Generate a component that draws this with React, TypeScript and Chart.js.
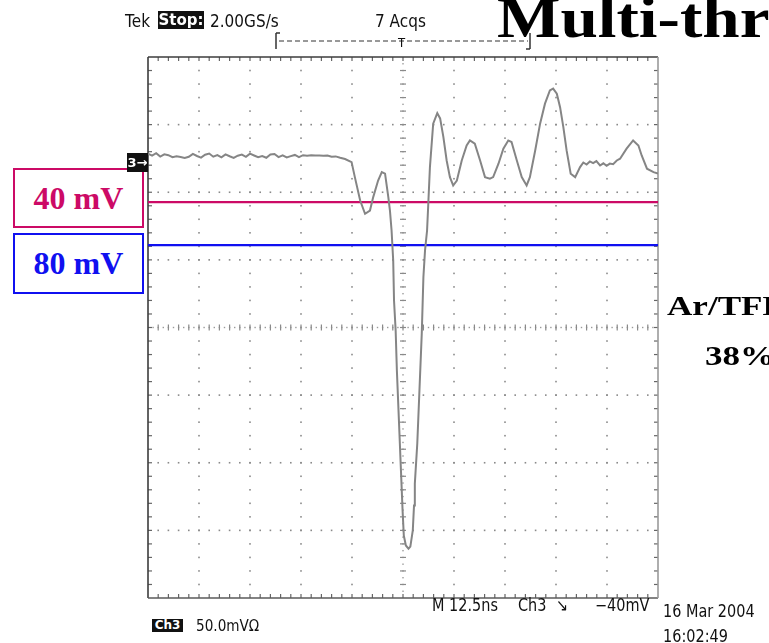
import React, { useEffect, useRef } from "react";
import { Chart, registerables } from "chart.js";

Chart.register(...registerables);

// Horizontal: 12.5 ns/div, 10 divisions, trigger at screen centre.
// Vertical: Ch3 at 50 mV/div, 8 divisions, values relative to channel ground.
const NS_PER_DIV = 12.5;
const MV_PER_DIV = 50;
const X_MIN = -62.5;
const X_MAX = 62.5;
const Y_MIN = -325;
const Y_MAX = 75;

// Captured Ch3 record (time in ns, amplitude in mV)
const traceTimeNs = [
  -62.5, -61.5, -60.5, -59.5, -58.5, -57.5, -56.5, -55.5, -54.5, -53.5,
  -52.5, -51.5, -50.5, -49.5, -48.5, -47.5, -46.5, -45.5, -44.5, -43.5,
  -42.5, -41.5, -40.5, -39.5, -38.5, -37.5, -36.5, -35.5, -34.5, -33.5,
  -32.5, -31.5, -30.5, -29.5, -28.5, -27.5, -26.5, -25.5, -24.5, -23.5,
  -22.5, -21.5, -20.5, -19.5, -18.5, -17.5, -16.5,
  -15.4, -14.2, -12.6, -11.8, -10.5, -9.3, -8.1, -7.3, -6.1, -5.2,
  -4.4, -3.6, -3.2, -2.8, -2.4, -2.2, -1.8, -1.5, -1.0, -0.5,
  -0.1, 0.2, 0.7, 1.35, 1.8, 2.4, 2.7, 2.9, 3.5, 4.0,
  4.6, 5.0, 5.4, 5.9, 6.2, 6.6, 7.4, 8.4, 9.1, 9.9,
  10.7, 11.5, 12.3, 13.2, 14.4, 15.6, 16.4, 17.6, 18.9, 20.1,
  21.3, 22.1, 23.4, 24.6, 25.8, 26.6, 27.9, 29.1, 30.3, 31.1,
  32.4, 33.6, 34.8, 36.0, 36.8, 37.7, 38.5, 39.3, 40.1, 41.1,
  42.2, 43.4, 44.2, 45.0, 45.8, 46.6, 47.4, 48.3, 49.1, 49.9,
  50.7, 51.5, 52.4, 53.2, 54.8, 56.4, 57.7, 58.5, 59.8, 61.4,
  62.5,
];

const traceMv = [
  3.5, 2.1, 3.9, 1.4, 3.0, 2.4, 0.9, 1.6, 1.1, 0.3,
  1.2, 3.4, 1.8, 0.6, 2.7, 3.6, 1.3, 2.5, 0.8, 3.0,
  1.6, 0.4, 2.0, 2.8, 1.2, 3.5, 2.2, 0.9, 1.8, 0.5,
  2.9, 3.3, 1.0, 2.3, 0.7, 1.7, 2.6, 1.0, 2.4, 2.0,
  2.4, 2.1, 2.2, 1.9, 2.1, 1.3, 1.5,
  0.5, -0.4, -2.7, -13.8, -31.1, -40.9, -38.5, -28.6, -16.3, -10.1,
  -11.3, -28.6, -38.5, -53.3, -75.4, -105, -127.2, -156.8, -193.8, -230.8,
  -260.4, -278.8, -286.2, -288.5, -287, -275.1, -256.7, -240.4, -210.8, -173.8,
  -129.4, -87.8, -68, -53.3, -33.3, -6.4, 25.7, 33.5, 29.6, 15.8,
  -1.5, -13.8, -20, -16.3, -1.5, 9.6, 13.3, 10.9, -1.5, -13.8,
  -15, -13.8, -3.9, 7.2, 13.3, 12.1, -1.5, -13.8, -20, -13.8,
  5.9, 25.7, 40.5, 50.3, 51.6, 47.9, 37.9, 23.2, 5.9, -11.3,
  -13.8, -6.4, -3.0, -4.5, -2.2, -3.5, -2.0, -5.2, -3.6, -5.5,
  -3.8, -4.2, -1.5, -0.2, 7.2, 13.3, 9.6, 2.2, -7.6, -10.1,
  -11.1,
];

// Discriminator thresholds (negative-going pulse), in mV
const thresholdLabels = ["40 mV", "80 mV"];
const thresholdMv = [-40, -80];
const thresholdColors = ["#cc0a66", "#1010f0"];

const TEK = '"DejaVu Sans", "Liberation Sans", sans-serif';
const SERIF = '"Liberation Serif", "Times New Roman", serif';

const graticule = {
  id: "graticule",
  beforeDatasetsDraw(chart: any) {
    const { ctx, chartArea: a, scales } = chart;
    const xs = scales.x;
    const ys = scales.y;
    const px = (v: number) => xs.getPixelForValue(v);
    const py = (v: number) => ys.getPixelForValue(v);
    const dot = (x: number, y: number, c = "#8a8a8a", s = 1.6) => {
      ctx.fillStyle = c;
      ctx.fillRect(x - s / 2, y - s / 2, s, s);
    };
    const seg = (x1: number, y1: number, x2: number, y2: number) => {
      ctx.beginPath();
      ctx.moveTo(x1, y1);
      ctx.lineTo(x2, y2);
      ctx.stroke();
    };
    ctx.save();
    const cxVal = (X_MIN + X_MAX) / 2;
    const cyVal = (Y_MIN + Y_MAX) / 2;
    // dotted division lines
    for (let k = 1; k < 10; k++) {
      if (k === 5) continue;
      const x = px(X_MIN + k * NS_PER_DIV);
      for (let j = 1; j < 40; j++) dot(x, py(Y_MIN + (j * MV_PER_DIV) / 5));
    }
    for (let k = 1; k < 8; k++) {
      if (k === 4) continue;
      const y = py(Y_MIN + k * MV_PER_DIV);
      for (let i = 1; i < 50; i++) dot(px(X_MIN + (i * NS_PER_DIV) / 5), y);
    }
    // centre cross with minor ticks
    const cx = px(cxVal);
    const cy = py(cyVal);
    for (let j = 1; j < 80; j++) dot(cx, py(Y_MIN + (j * MV_PER_DIV) / 10), "#9a9a9a", 1.4);
    for (let i = 1; i < 100; i++) dot(px(X_MIN + (i * NS_PER_DIV) / 10), cy, "#9a9a9a", 1.4);
    ctx.strokeStyle = "#8a8a8a";
    ctx.lineWidth = 1.2;
    for (let j = 1; j < 40; j++) {
      const y = py(Y_MIN + (j * MV_PER_DIV) / 5);
      seg(cx - 3, y, cx + 3, y);
    }
    for (let i = 1; i < 50; i++) {
      const x = px(X_MIN + (i * NS_PER_DIV) / 5);
      seg(x, cy - 3, x, cy + 3);
    }
    // edge ticks
    ctx.strokeStyle = "#666";
    ctx.lineWidth = 1.2;
    for (let i = 1; i < 50; i++) {
      const x = px(X_MIN + (i * NS_PER_DIV) / 5);
      seg(x, a.top, x, a.top + 4);
      seg(x, a.bottom, x, a.bottom - 4);
    }
    for (let j = 1; j < 40; j++) {
      const y = py(Y_MIN + (j * MV_PER_DIV) / 5);
      seg(a.left, y, a.left + 4, y);
      seg(a.right, y, a.right - 4, y);
    }
    // frame
    ctx.lineWidth = 1.6;
    ctx.strokeStyle = "#3c3c3c";
    seg(a.left, a.top, a.right, a.top);
    seg(a.left, a.top, a.left, a.bottom);
    ctx.strokeStyle = "#5a5a5a";
    seg(a.left, a.bottom, a.right, a.bottom);
    ctx.strokeStyle = "#9a9a9a";
    seg(a.right, a.top, a.right, a.bottom);

    // record window bracket above the graticule
    ctx.strokeStyle = "#333";
    ctx.lineWidth = 1.5;
    seg(276, 33, 276, 49);
    seg(276, 33, 280, 33);
    seg(530, 33, 530, 49);
    seg(526, 49, 530, 49);
    ctx.setLineDash([5, 3]);
    ctx.lineWidth = 1;
    seg(279, 41, 528, 41);
    ctx.setLineDash([]);
    ctx.restore();
  },
};

function Txt(props: {
  x: number;
  base: number;
  size: number;
  children: React.ReactNode;
  font?: string;
  color?: string;
  bold?: boolean;
  sx?: number;
  bg?: string;
}) {
  const serif = props.font === SERIF;
  const asc = serif ? 0.8375 : 0.846;
  return (
    <span
      style={{
        position: "absolute",
        left: props.x,
        top: props.base - asc * props.size,
        fontFamily: props.font || TEK,
        fontSize: props.size,
        lineHeight: 1,
        fontWeight: props.bold ? 700 : 400,
        color: props.color || "#111",
        background: props.bg,
        whiteSpace: "nowrap",
        transform: `scaleX(${props.sx ?? 1})`,
        transformOrigin: "left center",
      }}
    >
      {props.children}
    </span>
  );
}

function Badge(props: { x: number; y: number; w: number; h: number; size: number; children: React.ReactNode }) {
  return (
    <div
      style={{
        position: "absolute",
        left: props.x,
        top: props.y,
        width: props.w,
        height: props.h,
        background: "#111",
        color: "#fff",
        fontFamily: TEK,
        fontSize: props.size,
        fontWeight: 700,
        lineHeight: `${props.h}px`,
        textAlign: "center",
        whiteSpace: "nowrap",
        overflow: "hidden",
      }}
    >
      {props.children}
    </div>
  );
}

function LevelBox(props: { y: number; h: number; color: string; label: string }) {
  return (
    <div
      style={{
        position: "absolute",
        left: 13,
        top: props.y,
        width: 131,
        height: props.h,
        boxSizing: "border-box",
        border: `2px solid ${props.color}`,
        color: props.color,
        fontFamily: SERIF,
        fontWeight: 700,
        fontSize: 32,
        lineHeight: `${props.h - 4}px`,
        textAlign: "center",
        background: "#fff",
      }}
    >
      {props.label}
    </div>
  );
}

export default function App() {
  const canvasRef = useRef<HTMLCanvasElement | null>(null);

  useEffect(() => {
    const canvas = canvasRef.current;
    if (!canvas) return;
    const trace = traceTimeNs.map((t, i) => ({ x: t, y: traceMv[i] }));
    const levelSets = thresholdMv.map((v, i) => ({
      label: thresholdLabels[i],
      data: [
        { x: X_MIN, y: v },
        { x: X_MAX, y: v },
      ],
      yAxisID: "y2",
      borderColor: thresholdColors[i],
      borderWidth: 2.2,
      pointRadius: 0,
    }));
    const chart = new Chart(canvas, {
      type: "line",
      data: {
        datasets: [
          {
            label: "Ch3",
            data: trace,
            borderColor: "#858585",
            borderWidth: 2,
            pointRadius: 0,
            tension: 0,
          },
          ...levelSets,
        ],
      },
      options: {
        responsive: false,
        maintainAspectRatio: false,
        animation: false,
        events: [],
        layout: { padding: { left: 148, top: 57, right: 111, bottom: 45 } },
        plugins: { legend: { display: false }, tooltip: { enabled: false } },
        scales: {
          x: { type: "linear", min: X_MIN, max: X_MAX, display: false },
          y: { type: "linear", min: Y_MIN, max: Y_MAX, display: false },
          y2: { type: "linear", min: -408, max: 95, display: false },
        },
      },
      plugins: [graticule],
    });
    return () => chart.destroy();
  }, []);

  return (
    <div
      style={{
        position: "fixed",
        left: 0,
        top: 0,
        width: 769,
        height: 643,
        overflow: "hidden",
        background: "#fff",
      }}
    >
      <canvas ref={canvasRef} width={769} height={643} style={{ position: "absolute", left: 0, top: 0 }} />

      {/* scope status line */}
      <Txt x={125} base={27} size={18} sx={0.85}>Tek</Txt>
      <Badge x={158} y={11} w={46} h={18} size={15}>Stop:</Badge>
      <Txt x={210} base={27} size={18} sx={0.85}>2.00GS/s</Txt>
      <Txt x={375} base={27} size={18} sx={0.85}>7 Acqs</Txt>
      <Txt x={398} base={47} size={13} sx={0.9}>T</Txt>

      {/* title and gas mixture */}
      <Txt x={497} base={37} size={56} sx={1.2} font={SERIF} bold color="#000">Multi-threshold</Txt>
      <Txt x={667} base={316} size={27} sx={1.3} font={SERIF} bold color="#000">Ar/TFE</Txt>
      <Txt x={705} base={365} size={28} sx={1.25} font={SERIF} bold color="#000">38%</Txt>

      {/* threshold labels */}
      <LevelBox y={168} h={60} color={thresholdColors[0]} label={thresholdLabels[0]} />
      <LevelBox y={233} h={61} color={thresholdColors[1]} label={thresholdLabels[1]} />

      {/* ground marker */}
      <Badge x={127} y={153} w={21} h={19} size={13}>3→</Badge>

      {/* scope readouts */}
      <Txt x={432} base={611} size={17} sx={0.85}>M 12.5ns</Txt>
      <Txt x={518} base={611} size={17} sx={0.85}>Ch3</Txt>
      <Txt x={556} base={611} size={17} sx={0.85}>↘</Txt>
      <Txt x={595} base={611} size={17} sx={0.85}>−40mV</Txt>
      <Txt x={663} base={617} size={17} sx={0.85}>16 Mar 2004</Txt>
      <Txt x={663} base={642} size={17} sx={0.85}>16:02:49</Txt>
      <Badge x={152} y={619} w={31} h={13} size={12}>Ch3</Badge>
      <Txt x={196} base={632} size={16} sx={0.85}>50.0mVΩ</Txt>
    </div>
  );
}
